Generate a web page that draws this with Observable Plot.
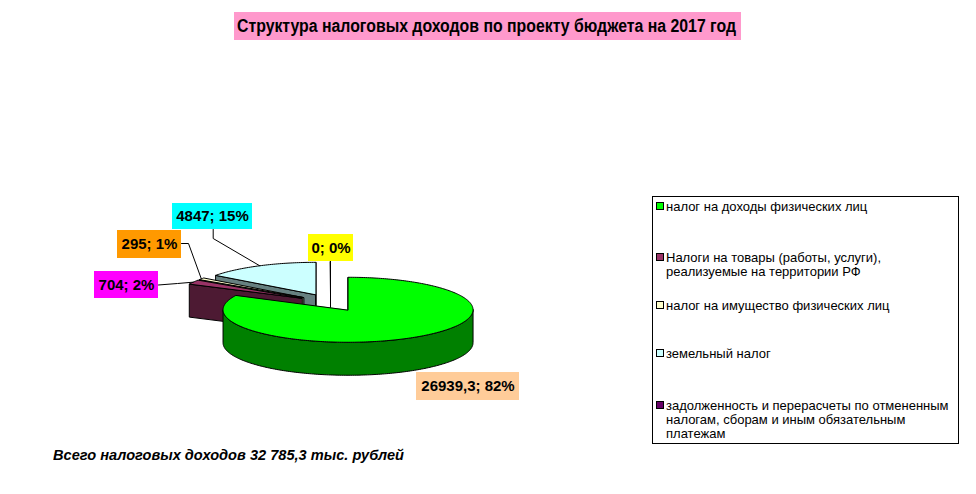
<!DOCTYPE html>
<html><head><meta charset="utf-8">
<script src="https://cdn.jsdelivr.net/npm/d3@7"></script>
<script src="https://cdn.jsdelivr.net/npm/@observablehq/plot@0.6"></script>
<style>
body{margin:0;background:#fff;font-family:"Liberation Sans",Arial,sans-serif;}
#wrap{position:relative;width:976px;height:494px;overflow:hidden;background:#fff;}
#chart{position:absolute;left:0;top:0;}
.abs{position:absolute;white-space:nowrap;}
.fit{display:inline-block;transform-origin:0 0;}
#legend{position:absolute;border:1px solid #000;box-sizing:border-box;}
.sw{position:absolute;width:8px;height:8px;border:1px solid #000;box-sizing:border-box;}
.lg{font-size:13px;line-height:14px;color:#000;}
</style></head>
<body><div id="wrap"><div id="chart"></div></div>
<script>
// ---------- data ----------
const categories = [
  "налог на доходы физических лиц",
  "Налоги на товары (работы, услуги), реализуемые на территории РФ",
  "налог на имущество физических лиц",
  "земельный налог",
  "задолженность и перерасчеты по отмененным налогам, сборам и иным обязательным платежам"
];
const values = [26939.3, 704, 295, 4847, 0];
const legendLines = [
  ["налог на доходы физических лиц"],
  ["Налоги на товары (работы, услуги),", "реализуемые на территории РФ"],
  ["налог на имущество физических лиц"],
  ["земельный налог"],
  ["задолженность и перерасчеты по отмененным", "налогам, сборам и иным обязательным", "платежам"]
];
const titleText = "Структура налоговых доходов по проекту бюджета на 2017 год";
const footerText = "Всего налоговых доходов 32 785,3 тыс. рублей";

// ---------- styles ----------
const topColors   = ["#00FF00", "#993366", "#FFFFCC", "#CCFFFF", "#660066"];
const sideColors  = ["#008000", "#4D1A33", "#808066", "#668080", "#330033"];
const labelFills  = ["#FFCC99", "#FF00FF", "#FF9900", "#00FFFF", "#FFFF00"];

// ---------- layout ----------
const W = 976, H = 494;
const CX = 330, CY = 302, RX = 125, RY = 32.5, DEPTH = 33, EXPLODE = 33;
const K = RY / RX;
const labelBoxes = [
  {x1: 416, y1: 372, x2: 519, y2: 400},
  {x1: 94,  y1: 271, x2: 158, y2: 298},
  {x1: 117, y1: 230, x2: 181, y2: 258},
  {x1: 172, y1: 203, x2: 252, y2: 229},
  {x1: 308, y1: 234, x2: 353, y2: 261}
];
const leaderElbows = [null, [[158, 284.5], [177, 283]], [[181, 243], [188, 243]], [[212.7, 229], [212.7, 238]], null];
const legendBox = {left: 651.5, top: 196, width: 307, height: 247.5};
const legendFirstBaseline = [211.7, 262.5, 310.7, 358.3, 410];
const LINE = 14;

// ---------- geometry from values ----------
const total = d3.sum(values);
const arcs = d3.pie().sort(null).value(d => d)(values);
const slices = arcs.map((a, i) => {
  const m = (a.startAngle + a.endAngle) / 2;
  return {i, a0: a.startAngle, a1: a.endAngle, mid: m,
    vx: CX + EXPLODE * Math.sin(m), vy: CY - EXPLODE * K * Math.cos(m)};
});
const rim = (s, t, dz = 0) => [s.vx + RX * Math.sin(t), s.vy - RY * Math.cos(t) + dz];
function arcPts(s, t0, t1, dz) {
  const n = Math.max(1, Math.ceil(Math.abs(t1 - t0) / (Math.PI / 180)));
  const out = [];
  for (let j = 0; j <= n; j++) out.push(rim(s, t0 + (t1 - t0) * j / n, dz));
  return out;
}
const faces = []; let fid = 0;
function addFace(pts, fill) { const id = fid++; pts.forEach(([x, y]) => faces.push({id, x, y, fill})); }
const order = [...slices].sort((a, b) => a.vy - b.vy);
const eps = 1e-6;
for (const s of order) {
  const ns = s.a0 - Math.PI / 2, ne = s.a1 + Math.PI / 2;
  if (-Math.cos(ns) > -eps) addFace([[s.vx, s.vy], rim(s, s.a0), rim(s, s.a0, DEPTH), [s.vx, s.vy + DEPTH]], sideColors[s.i]);
  if (-Math.cos(ne) > -eps) addFace([[s.vx, s.vy], rim(s, s.a1), rim(s, s.a1, DEPTH), [s.vx, s.vy + DEPTH]], sideColors[s.i]);
  const lo = Math.max(s.a0, Math.PI / 2), hi = Math.min(s.a1, 3 * Math.PI / 2);
  if (hi > lo) addFace([...arcPts(s, lo, hi, 0), ...arcPts(s, hi, lo, DEPTH)], sideColors[s.i]);
}
for (const s of order) addFace([[s.vx, s.vy], ...arcPts(s, s.a0, s.a1, 0)], topColors[s.i]);

const fmt = v => String(v).replace(".", ",");
const labels = values.map((v, i) => ({
  ...labelBoxes[i], fill: labelFills[i],
  text: `${fmt(v)}; ${Math.round(v / total * 100)}%`,
  cx: (labelBoxes[i].x1 + labelBoxes[i].x2) / 2, cy: (labelBoxes[i].y1 + labelBoxes[i].y2) / 2
}));
const leaders = [];
slices.forEach(s => {
  const el = leaderElbows[s.i];
  if (!el) return;
  const end = rim(s, s.mid);
  [...el, end].forEach(([x, y]) => leaders.push({id: s.i, x, y}));
});

const chart = Plot.plot({
  width: W, height: H, margin: 0,
  x: {domain: [0, W], range: [0, W], axis: null},
  y: {domain: [0, H], range: [0, H], axis: null},
  color: {type: "identity"},
  style: {background: "transparent"},
  marks: [
    Plot.line(faces, {x: "x", y: "y", z: "id", fill: "fill", stroke: "#000", strokeWidth: 1,
      curve: "linear-closed", strokeLinejoin: "miter"}),
    Plot.line(leaders, {x: "x", y: "y", z: "id", stroke: "#000", strokeWidth: 1}),
    Plot.rect(labels, {x1: "x1", x2: "x2", y1: "y1", y2: "y2", fill: "fill"}),
    Plot.text(labels, {x: "cx", y: "cy", text: "text", fontSize: 15, fontWeight: "bold",
      fontFamily: "Liberation Sans, Arial, sans-serif", fill: "#000"})
  ]
});
document.getElementById("chart").appendChild(chart);

// ---------- HTML title, footer, legend ----------
const wrap = document.getElementById("wrap");
function fitText(text, css, left, top, targetW) {
  const d = document.createElement("div");
  d.className = "abs"; d.style.left = left + "px"; d.style.top = top + "px";
  const sp = document.createElement("span"); sp.className = "fit"; sp.textContent = text;
  Object.assign(sp.style, css);
  d.appendChild(sp); wrap.appendChild(d);
  const w = sp.getBoundingClientRect().width;
  if (targetW && w) sp.style.transform = `scaleX(${targetW / w})`;
  return d;
}
const tb = document.createElement("div");
Object.assign(tb.style, {position: "absolute", left: "234px", top: "12px", width: "507px", height: "27.5px", background: "#FF99CC"});
wrap.appendChild(tb);
fitText(titleText, {fontSize: "18px", fontWeight: "bold", lineHeight: "18px", fontFamily: "'Liberation Sans Narrow','Liberation Sans',Arial,sans-serif"}, 237, 17, 499);
fitText(footerText, {fontSize: "14px", fontWeight: "bold", fontStyle: "italic", lineHeight: "14px"}, 52.5, 446, 351);

const lgd = document.createElement("div"); lgd.id = "legend";
Object.assign(lgd.style, {left: legendBox.left + "px", top: legendBox.top + "px", width: legendBox.width + "px", height: legendBox.height + "px"});
wrap.appendChild(lgd);
legendLines.forEach((lines, i) => {
  const b0 = legendFirstBaseline[i];
  const sw = document.createElement("div"); sw.className = "sw";
  Object.assign(sw.style, {left: "656px", top: (b0 - 9.5) + "px", background: topColors[i]});
  wrap.appendChild(sw);
  lines.forEach((t, j) => {
    const d = document.createElement("div"); d.className = "abs lg"; d.textContent = t;
    d.style.left = "666px"; d.style.top = (b0 + j * LINE - 11.5) + "px";
    wrap.appendChild(d);
  });
});
</script></body></html>
